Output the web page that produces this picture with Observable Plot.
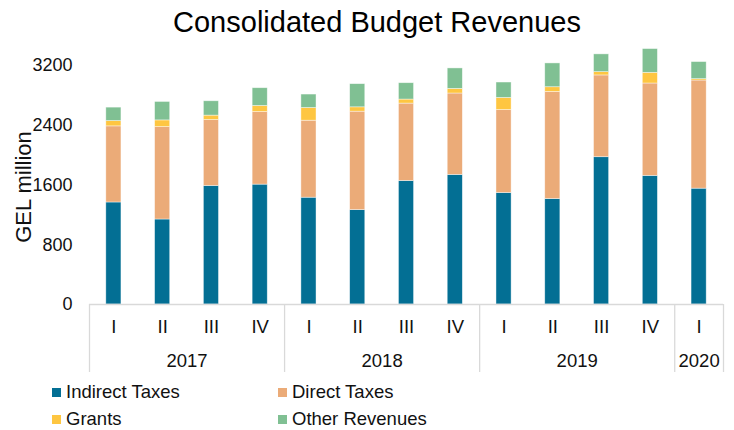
<!DOCTYPE html>
<html>
<head>
<meta charset="utf-8">
<script src="https://cdn.jsdelivr.net/npm/d3@7"></script>
<script src="https://cdn.jsdelivr.net/npm/@observablehq/plot@0.6"></script>
<style>
  html, body { margin: 0; padding: 0; background: #fff; }
  body { width: 734px; height: 430px; overflow: hidden; font-family: "Liberation Sans", Arial, sans-serif; color: #111; }
  #title { width: 734px; height: 40px; line-height: 44px; box-sizing: border-box; padding-left: 20px; text-align: center; font-size: 29px; color: #000; }
  #legend { position: relative; width: 734px; height: 50px; font-size: 18.5px; }
  .item { position: absolute; display: flex; align-items: center; height: 22px; }
  .sw { width: 9px; height: 9px; margin-right: 5px; }
</style>
</head>
<body>
<div id="title">Consolidated Budget Revenues</div>
<div id="chart"></div>
<div id="legend"></div>
<script>
// ---- data ----
const quarterLabels = ["I","II","III","IV","I","II","III","IV","I","II","III","IV","I"];
const yearLabels = ["2017","2018","2019","2020"];
const yearQuarterCounts = [4, 4, 4, 1];
const seriesNames = ["Indirect Taxes","Direct Taxes","Grants","Other Revenues"];
const indirectTaxes = [1366,1138,1587,1605,1430,1264,1654,1735,1493,1412,1972,1722,1551];
const directTaxes   = [1019,1237, 883, 972,1031,1318,1036,1090,1111,1434,1095,1237,1448];
const grants        = [  71,  90,  59,  81, 170,  58,  54,  62, 162,  63,  44, 143,  18];
const otherRevenues = [ 180, 247, 192, 238, 180, 310, 219, 274, 206, 319, 238, 318, 229];
const yTicks = [0, 800, 1600, 2400, 3200];
const seriesColors = ["#036f94","#ebab78","#fec641","#80c093"];

// ---- derived tables ----
const seriesValues = [indirectTaxes, directTaxes, grants, otherRevenues];
const rows = [];
quarterLabels.forEach((q, i) => {
  let acc = 0;
  seriesNames.forEach((s, k) => {
    const v = seriesValues[k][i];
    rows.push({i, series: s, y1: acc, y2: acc + v});
    acc += v;
  });
});
const years = [];
let start = 0;
yearLabels.forEach((y, k) => {
  years.push({year: y, start, end: start + yearQuarterCounts[k]});
  start += yearQuarterCounts[k];
});
const boundaries = [0, ...years.map(d => d.end)];
const nQ = quarterLabels.length;
const barFrac = 0.31;

const chart = Plot.plot({
  width: 734,
  height: 340,
  marginLeft: 89,
  marginRight: 11,
  marginTop: 25,
  marginBottom: 76,
  style: {fontFamily: "'Liberation Sans', Arial, sans-serif", fontSize: "18px", color: "#111", background: "white", overflow: "visible"},
  x: {domain: [0, nQ], axis: null},
  y: {domain: [0, 3200], ticks: yTicks, tickSize: 0, tickPadding: 17, tickFormat: d => String(d), label: null},
  color: {domain: seriesNames, range: seriesColors},
  marks: [
    Plot.rect(rows, {
      x1: d => d.i + 0.5 - barFrac / 2,
      x2: d => d.i + 0.5 + barFrac / 2,
      y1: "y1", y2: "y2",
      fill: "series",
      stroke: "white", strokeWidth: 0.7, strokeOpacity: 0.6
    }),
    Plot.ruleY([0], {stroke: "#d9d9d9", strokeWidth: 1.3}),
    Plot.ruleX(boundaries, {x: d => d, stroke: "#d9d9d9", strokeWidth: 1.3, insetTop: 239, insetBottom: -68}),
    Plot.text(quarterLabels, {x: (d, i) => i + 0.5, text: d => d, frameAnchor: "bottom", lineAnchor: "middle", dy: 23, fontSize: 18.5, fill: "#111"}),
    Plot.text(years, {x: d => (d.start + d.end) / 2, text: "year", frameAnchor: "bottom", lineAnchor: "middle", dy: 57, fontSize: 18.5, fill: "#111"}),
    Plot.text(["GEL million"], {text: d => d, frameAnchor: "left", textAnchor: "middle", lineAnchor: "middle", rotate: -90, dx: -66, dy: 2, fontSize: 22, fill: "#111"})
  ]
});
document.getElementById("chart").appendChild(chart);

// ---- legend ----
const legend = document.getElementById("legend");
const pos = [[52, 1], [278, 1], [52, 28], [278, 28]];
seriesNames.forEach((s, k) => {
  const it = document.createElement("div");
  it.className = "item";
  it.style.left = pos[k][0] + "px";
  it.style.top = pos[k][1] + "px";
  const sw = document.createElement("span");
  sw.className = "sw";
  sw.style.background = seriesColors[k];
  const tx = document.createElement("span");
  tx.textContent = s;
  it.appendChild(sw);
  it.appendChild(tx);
  legend.appendChild(it);
});
</script>
</body>
</html>
